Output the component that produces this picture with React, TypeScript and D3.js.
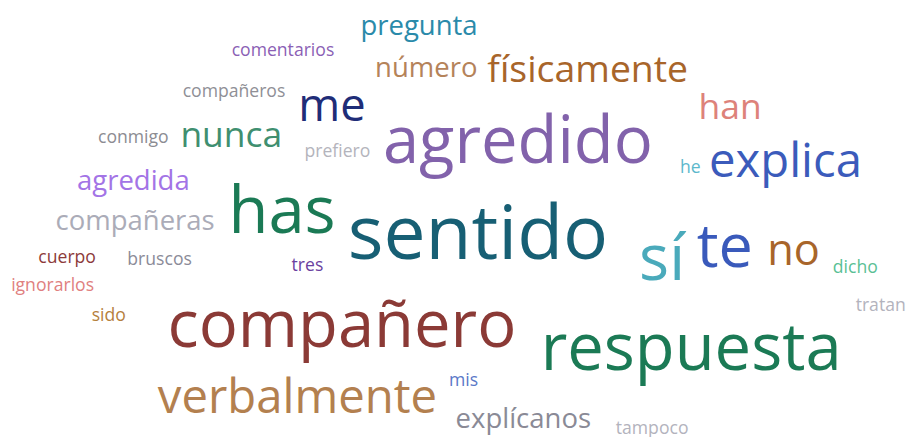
import React from "react";
import * as d3 from "d3";

const WIDTH = 907;
const HEIGHT = 437;

// Words of the cloud
const words = [
  "pregunta", "comentarios", "número", "físicamente", "compañeros", "me", "han",
  "agredido", "nunca", "conmigo", "prefiero", "he", "explica", "agredida", "has",
  "sentido", "compañeras", "sí", "te", "no", "dicho", "cuerpo", "bruscos", "tres",
  "ignorarlos", "tratan", "sido", "compañero", "respuesta", "mis", "verbalmente",
  "explícanos", "tampoco",
];

// Word frequencies (weights)
const counts = [
  6, 1, 6, 11, 1, 15, 10,
  25, 10, 1, 1, 1, 16, 6, 25,
  30, 6, 24, 23, 14, 1, 1, 1, 1,
  1, 1, 1, 25, 25, 1, 16,
  6, 1,
];

// Word colours
const colors = [
  "#2a8aaa", "#8b5fb5", "#b5835a", "#a8652a", "#8f8f96", "#1f2d78", "#dd827a",
  "#8262ab", "#3f8f70", "#8c8c92", "#b4b4bc", "#5bb8cc", "#3b5bbb", "#a374e6", "#1b7a55",
  "#175f74", "#abacb8", "#4aaabb", "#3a5abb", "#a8652a", "#5abf95", "#8c3a3a", "#8b8b98", "#6b3fa0",
  "#e07f80", "#b3b3bd", "#b5803d", "#8b3a36", "#1b7a55", "#5a78c8", "#b3804f",
  "#8a8a96", "#b3b3bd",
];

// Layout result of the cloud (word centre x, baseline y), in layout units 0..1000
const layoutX = [
  462, 312, 470, 648, 258, 366, 805,
  571, 255, 147, 372, 761, 866, 147, 311,
  527, 149, 730, 799, 875, 943, 74, 176, 339,
  58, 971, 120, 377, 762, 511, 328,
  577, 719,
];
const layoutY = [
  80, 128, 177, 187, 223, 278, 272,
  374, 336, 327, 360, 397, 405, 435, 534,
  593, 526, 641, 612, 606, 625, 601, 606, 620,
  667, 712, 734, 793, 847, 883, 946,
  980, 993,
];

export default function App() {
  const x = d3.scaleLinear().domain([0, 1000]).range([0, WIDTH]);
  const y = d3.scaleLinear().domain([0, 1000]).range([0, HEIGHT]);
  const size = d3
    .scaleLinear()
    .domain([1, d3.max(counts) as number])
    .range([17.6, 75]);

  return (
    <svg
      width={WIDTH}
      height={HEIGHT}
      style={{ position: "absolute", left: 0, top: 0, background: "#ffffff" }}
    >
      {words.map((w, i) => (
        <text
          key={w + i}
          x={x(layoutX[i])}
          y={y(layoutY[i])}
          fontSize={size(counts[i])}
          fill={colors[i]}
          textAnchor="middle"
          fontFamily="'Open Sans', 'Noto Sans', sans-serif"
        >
          {w}
        </text>
      ))}
    </svg>
  );
}
